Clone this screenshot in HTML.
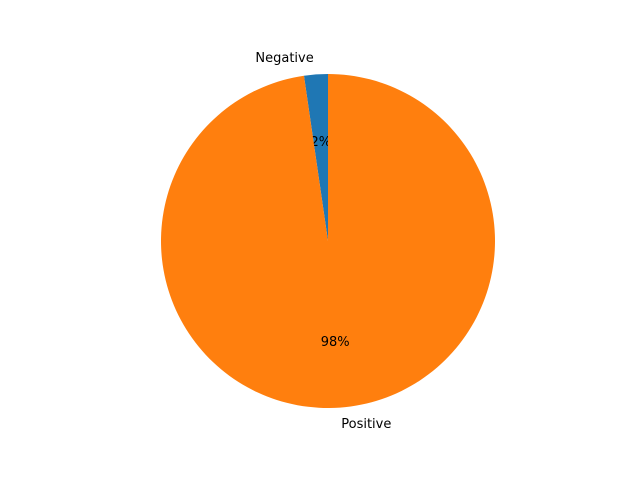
<!DOCTYPE html>
<html><head><meta charset="utf-8"><style>
html,body{margin:0;padding:0;background:#fff}
svg{display:block;font-family:"DejaVu Sans","Liberation Sans",sans-serif}
</style></head><body>
<svg id="chart" width="640" height="480" viewBox="0 0 640 480" xmlns="http://www.w3.org/2000/svg">
<rect width="640" height="480" fill="#fff"/>
</svg>
<script>
const categories = ["Negative", "Positive"];
const values = [2.3, 97.7];
const pctLabels = ["2%", "98%"];
const colors = ["#1f77b4", "#ff7f0e"];

const svg = document.getElementById('chart');
const NS = 'http://www.w3.org/2000/svg';
const cx = 328, cy = 241, r = 167;
const total = values.reduce((a, b) => a + b, 0);
let ang = 90;
function pt(a, rr) { const t = a * Math.PI / 180; return [cx + rr * Math.cos(t), cy - rr * Math.sin(t)]; }
values.forEach((v, i) => {
  const sweep = v / total * 360;
  const a0 = ang, a1 = ang + sweep;
  const p0 = pt(a0, r), p1 = pt(a1, r);
  const large = sweep > 180 ? 1 : 0;
  const path = document.createElementNS(NS, 'path');
  path.setAttribute('d', `M${cx},${cy} L${p0[0]},${p0[1]} A${r},${r} 0 ${large} 0 ${p1[0]},${p1[1]} Z`);
  path.setAttribute('fill', colors[i]);
  
  
  svg.appendChild(path);
  const mid = (a0 + a1) / 2;
  const pp = pt(mid, r * 0.6);
  const t = document.createElementNS(NS, 'text');
  t.setAttribute('x', pp[0]); t.setAttribute('y', pp[1] + 5);
  t.setAttribute('text-anchor', 'middle'); t.setAttribute('font-size', '13');
  t.textContent = pctLabels[i];
  
  
  svg.appendChild(t);
  const lp = pt(mid, r * 1.1);
  const left = Math.cos(mid * Math.PI / 180) < 0;
  const l = document.createElementNS(NS, 'text');
  l.setAttribute('x', lp[0] + (left ? -1 : 0)); l.setAttribute('y', lp[1] + 4);
  l.setAttribute('text-anchor', left ? 'end' : 'start');
  l.setAttribute('font-size', '13');
  l.textContent = categories[i];
  
  
  svg.appendChild(l);
  ang = a1;
});
</script>
</body></html>
